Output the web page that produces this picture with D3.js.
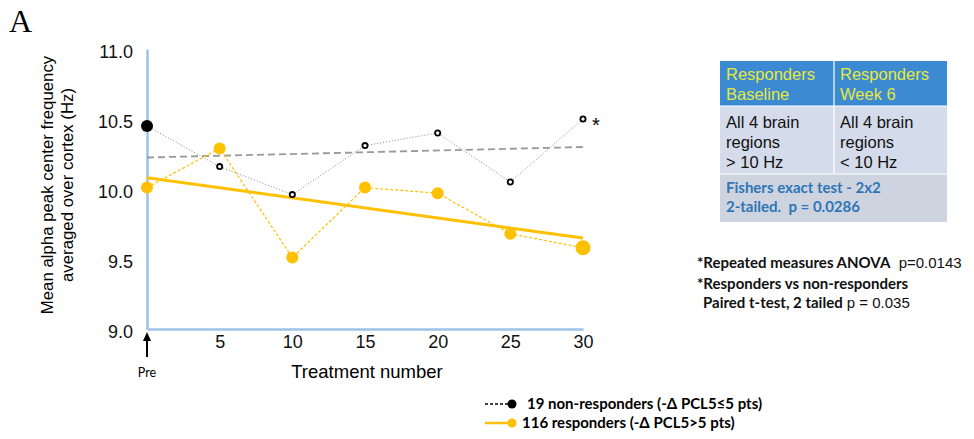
<!DOCTYPE html>
<html><head><meta charset="utf-8">
<script src="https://cdn.jsdelivr.net/npm/d3@7"></script>
<style>body{margin:0;background:#fff}svg{display:block}</style>
</head><body><svg id="c" width="974" height="439"></svg>
<script>
const treatments = [0, 5, 10, 15, 20, 25, 30];
const nonResponders = [10.45, 10.16, 9.96, 10.31, 10.40, 10.05, 10.50];
const responders = [10.01, 10.29, 9.51, 10.01, 9.97, 9.68, 9.58];
const trendX = [0, 30];
const nonRespTrend = [10.225, 10.30];
const respTrend = [10.08, 9.65];
const yTicks = [9.0, 9.5, 10.0, 10.5, 11.0];
const xTicks = [5, 10, 15, 20, 25, 30];

const svg = d3.select("#c");
const x = d3.scaleLinear().domain([0, 30]).range([147, 583]);
const y = d3.scaleLinear().domain([9, 11]).range([329, 49]);
const AX = "#9dc3e6", YEL = "#ffc000";
const sans = "'Liberation Sans', Arial, sans-serif";
const lato = "Lato, 'Open Sans', sans-serif";

svg.append("text").attr("x", 9).attr("y", 32).attr("font-family", "'Liberation Serif', 'DejaVu Serif', serif")
  .attr("font-size", 32).text("A");

// axes
const ya = svg.append("g").attr("transform", `translate(${x(0)},0)`)
  .call(d3.axisLeft(y).tickValues(yTicks).tickSize(0).tickPadding(14).tickFormat(d3.format(".1f")));
const xa = svg.append("g").attr("transform", `translate(0,${y(9)})`)
  .call(d3.axisBottom(x).tickValues(xTicks).tickSize(0).tickPadding(6));
[ya, xa].forEach(g => {
  g.select(".domain").attr("stroke", AX).attr("stroke-width", 2.5);
  g.selectAll("text").attr("font-family", sans).attr("font-size", 18).attr("fill", "#111");
});
ya.selectAll("text").attr("dy", "0.45em");

svg.append("text").attr("x", 367).attr("y", 378).attr("text-anchor", "middle")
  .attr("font-family", sans).attr("font-size", 18.5).text("Treatment number");

// Pre arrow
svg.append("line").attr("x1", x(0)).attr("x2", x(0)).attr("y1", 357).attr("y2", 337)
  .attr("stroke", "#000").attr("stroke-width", 2);
svg.append("path").attr("d", `M${x(0)-4},${341} L${x(0)},${332} L${x(0)+4},${341} Z`).attr("fill", "#000");
svg.append("text").attr("x", x(0)).attr("y", 377).attr("text-anchor", "middle")
  .attr("font-family", lato).attr("font-size", 12.5).text("Pre");

// y title
const yt = svg.append("text").attr("transform", "translate(58,185) rotate(-90)")
  .attr("text-anchor", "middle").attr("font-family", sans).attr("font-size", 16.8);
yt.append("tspan").attr("x", 0).attr("dy", "-0.3em").text("Mean alpha peak center frequency");
yt.append("tspan").attr("x", 0).attr("dy", "1.2em").text("averaged over cortex (Hz)");

// trend lines
const tl = d3.line().x(d => x(d[0])).y(d => y(d[1]));
svg.append("path").attr("d", tl(trendX.map((t, i) => [t, nonRespTrend[i]])))
  .attr("fill", "none").attr("stroke", "#999").attr("stroke-width", 1.8).attr("stroke-dasharray", "7,4");
svg.append("path").attr("d", tl(trendX.map((t, i) => [t, respTrend[i]])))
  .attr("fill", "none").attr("stroke", YEL).attr("stroke-width", 3);

// series lines
svg.append("path").attr("d", tl(treatments.map((t, i) => [t, nonResponders[i]])))
  .attr("fill", "none").attr("stroke", "#888").attr("stroke-width", 1).attr("stroke-dasharray", "1,2");
svg.append("path").attr("d", tl(treatments.map((t, i) => [t, responders[i]])))
  .attr("fill", "none").attr("stroke", YEL).attr("stroke-width", 1.2).attr("stroke-dasharray", "3,2");

// points
svg.selectAll(".rp").data(treatments).enter().append("circle")
  .attr("cx", d => x(d)).attr("cy", (d, i) => y(responders[i]))
  .attr("r", (d, i) => i === treatments.length - 1 ? 7.5 : 6).attr("fill", YEL);
svg.selectAll(".np").data(treatments).enter().append("circle")
  .attr("cx", d => x(d)).attr("cy", (d, i) => y(nonResponders[i]))
  .attr("r", (d, i) => i === 0 ? 6 : 2.6)
  .attr("fill", (d, i) => i === 0 ? "#000" : "#fff")
  .attr("stroke", "#000").attr("stroke-width", (d, i) => i === 0 ? 0 : 1.8);
svg.append("text").attr("x", x(30) + 9).attr("y", y(nonResponders[6]) + 13)
  .attr("font-family", sans).attr("font-size", 20).text("*");

// table
const tx = 720, tc = 834, tr = 947;
svg.append("rect").attr("x", tx).attr("y", 61).attr("width", tr - tx).attr("height", 45).attr("fill", "#3b8ad2");
svg.append("rect").attr("x", tx).attr("y", 106).attr("width", tr - tx).attr("height", 68).attr("fill", "#d4dbea");
svg.append("rect").attr("x", tx).attr("y", 174).attr("width", tr - tx).attr("height", 48).attr("fill", "#ced4df");
svg.append("line").attr("x1", tc).attr("x2", tc).attr("y1", 61).attr("y2", 174).attr("stroke", "#fff").attr("stroke-width", 1.2);
svg.append("line").attr("x1", tx).attr("x2", tr).attr("y1", 106).attr("y2", 106).attr("stroke", "#fff").attr("stroke-width", 1.2);
svg.append("line").attr("x1", tx).attr("x2", tr).attr("y1", 174).attr("y2", 174).attr("stroke", "#fff").attr("stroke-width", 1.2);
const cell = (xx, lines, y0, fill) => lines.forEach((s, i) =>
  svg.append("text").attr("x", xx).attr("y", y0 + i * 20).attr("font-family", sans).attr("font-size", 16.5)
    .attr("fill", fill).text(s));
cell(726, ["Responders", "Baseline"], 80, "#e8e83a");
cell(840, ["Responders", "Week 6"], 80, "#e8e83a");
cell(726, ["All 4 brain", "regions", "> 10 Hz"], 128, "#111");
cell(840, ["All 4 brain", "regions", "< 10 Hz"], 128, "#111");
["Fishers exact test - 2x2", "2-tailed.  p = 0.0286"].forEach((s, i) =>
  svg.append("text").attr("x", 726).attr("y", 193 + i * 19).attr("font-family", lato).attr("font-weight", "bold")
    .attr("font-size", 15).attr("fill", "#2e75b6").attr("xml:space", "preserve").style("white-space", "pre").text(s));

// annotations
const ann = [
  [697, 268, [["*Repeated measures ANOVA", true], ["  p=0.0143", false]]],
  [697, 289, [["*Responders vs non-responders", true]]],
  [703, 308, [["Paired t-test, 2 tailed", true], [" p = 0.035", false]]]
];
ann.forEach(([ax, ay, parts]) => {
  const t = svg.append("text").attr("x", ax).attr("y", ay).attr("font-size", 15).attr("fill", "#111")
    .attr("xml:space", "preserve").style("white-space", "pre");
  parts.forEach(([s, b]) => t.append("tspan").attr("font-family", b ? lato : sans)
    .attr("font-weight", b ? "bold" : "normal").text(s));
});

// legend
svg.append("line").attr("x1", 485).attr("x2", 508).attr("y1", 404).attr("y2", 404)
  .attr("stroke", "#000").attr("stroke-width", 1.5).attr("stroke-dasharray", "3,2");
svg.append("circle").attr("cx", 512).attr("cy", 404).attr("r", 4.5).attr("fill", "#000");
svg.append("line").attr("x1", 485).attr("x2", 510).attr("y1", 423).attr("y2", 423)
  .attr("stroke", YEL).attr("stroke-width", 2.5);
svg.append("circle").attr("cx", 512).attr("cy", 423).attr("r", 4.5).attr("fill", YEL);
svg.append("text").attr("x", 527).attr("y", 409).attr("font-family", lato).attr("font-weight", "bold")
  .attr("font-size", 15).text("19 non-responders (-Δ PCL5≤5 pts)");
svg.append("text").attr("x", 522).attr("y", 428).attr("font-family", lato).attr("font-weight", "bold")
  .attr("font-size", 15).text("116 responders (-Δ PCL5>5 pts)");
</script></body></html>
